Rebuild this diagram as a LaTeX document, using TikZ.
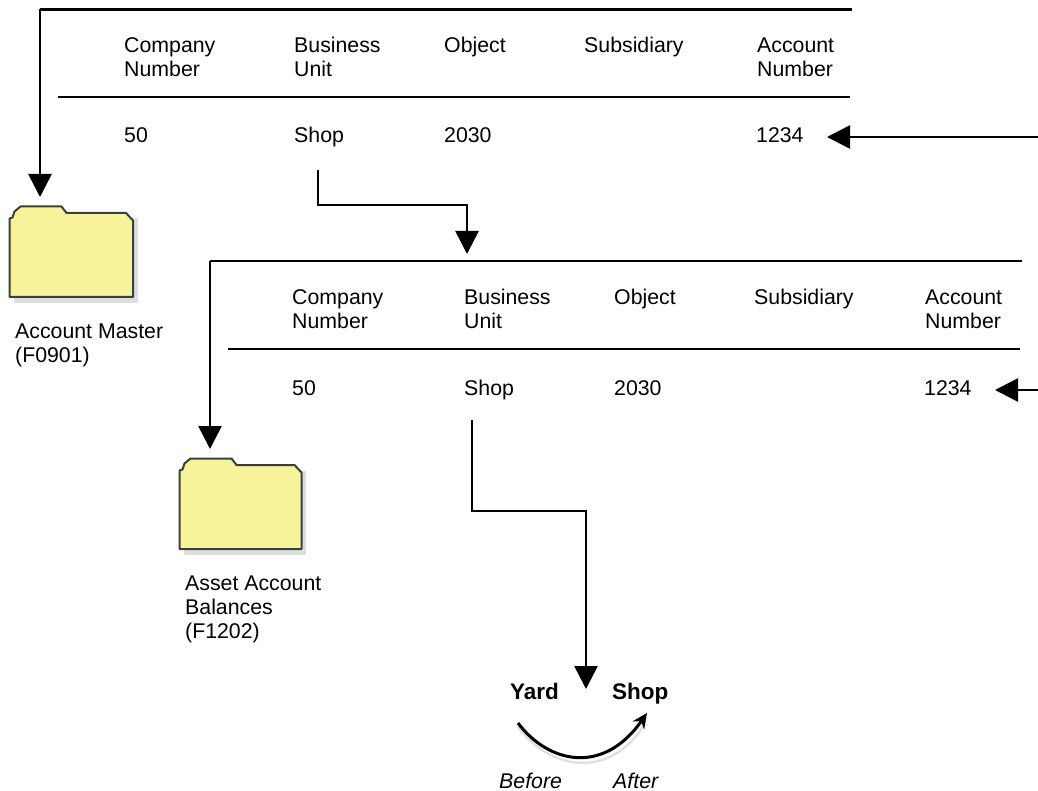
\documentclass[tikz,border=0pt]{standalone}
\usepackage{fontspec}
\setmainfont{Liberation Sans}
\usetikzlibrary{arrows.meta}
\definecolor{folderyellow}{RGB}{247,243,155}
\definecolor{foldershadow}{RGB}{222,222,222}
\definecolor{folderedge}{RGB}{55,65,65}
\tikzset{
 lbl/.style={anchor=base west,inner sep=0pt,font=\fontsize{21.3}{24}\selectfont,text=black},
 boldlbl/.style={lbl,font=\fontsize{22.5}{24}\selectfont\bfseries},
 itlbl/.style={lbl,font=\fontsize{21.3}{24}\selectfont\itshape},
 ln/.style={line width=2.7pt,black},
 arr/.style={line width=2.7pt,black,-{Triangle[length=23pt,width=23pt]}},
 folder/.style={draw=folderedge,line width=2pt,fill=folderyellow,line join=round},
}
\newcommand{\folderat}[4]{%
 \fill[foldershadow] (#1+4,#2+12) rectangle (#1+#3+4.5,#2+96.5);
 \draw[folder] (#1,#2+90.5) -- (#1,#2+12) -- (#1+3,#2+11) -- (#1+5,#2+5) -- (#1+11,#2) -- (#1+52,#2) -- (#1+57,#2+6.5) -- (#1+#3-7,#2+6.5) -- (#1+#3,#2+14) -- (#1+#3,#2+90.5) -- cycle;
 \coordinate (#4) at (#1+62,#2);
}
\begin{document}
\begin{tikzpicture}[x=1pt,y=-1pt]
\useasboundingbox (0,0) rectangle (1038,791);
% top table
\coordinate (t1a) at (40,197);
\coordinate (t1s) at (852,9.5);
\coordinate (t1c) at (40,9.5);
\draw[ln] (t1s) -- (t1c);
\coordinate (r1a) at (58,97); \coordinate (r1b) at (850,97);
\draw[ln] (r1a) -- (r1b);
\node[lbl] (a1) at (124,53) {Company};
\node[lbl] (a2) at (124,77) {Number};
\node[lbl] (b1) at (294,53) {Business};
\node[lbl] (b2) at (294,77) {Unit};
\node[lbl] (c1) at (444,53) {Object};
\node[lbl] (d1) at (584,53) {Subsidiary};
\node[lbl] (e1) at (757,53) {Account};
\node[lbl] (e2) at (757,77) {Number};
\node[lbl] (v1) at (124,143) {50};
\node[lbl] (v2) at (294,143) {Shop};
\node[lbl] (v3) at (444,143) {2030};
\node[lbl] (v4) at (756,143) {1234};
\draw[arr] (t1c) -- (t1a);
\coordinate (i1) at (1038,137); \coordinate (i1e) at (827,137);
\draw[arr] (i1) -- (i1e);
\coordinate (s1) at (318,170); \coordinate (s1m) at (318,205); \coordinate (s1n) at (467,205); \coordinate (s1e) at (467,254);
\draw[arr] (s1) -- (s1m) -- (s1n) -- (s1e);
% second table
\coordinate (t2s) at (1022,261); \coordinate (t2c) at (210,261); \coordinate (t2a) at (210,449);
\draw[ln] (t2s) -- (t2c);
\draw[arr] (t2c) -- (t2a);
\coordinate (r2a) at (228,349); \coordinate (r2b) at (1020,349);
\draw[ln] (r2a) -- (r2b);
\node[lbl] (a1b) at (292,305) {Company};
\node[lbl] (a2b) at (292,329) {Number};
\node[lbl] (b1b) at (464,305) {Business};
\node[lbl] (b2b) at (464,329) {Unit};
\node[lbl] (c1b) at (614,305) {Object};
\node[lbl] (d1b) at (754,305) {Subsidiary};
\node[lbl] (e1b) at (925,305) {Account};
\node[lbl] (e2b) at (925,329) {Number};
\node[lbl] (v1b) at (292,395) {50};
\node[lbl] (v2b) at (464,395) {Shop};
\node[lbl] (v3b) at (614,395) {2030};
\node[lbl] (v4b) at (924,395) {1234};
\coordinate (i2) at (1038,390); \coordinate (i2e) at (995,390);
\draw[arr] (i2) -- (i2e);
\coordinate (s2) at (472,420); \coordinate (s2m) at (472,511); \coordinate (s2n) at (586,511); \coordinate (s2e) at (586,689);
\draw[arr] (s2) -- (s2m) -- (s2n) -- (s2e);
% folders
\folderat{9.5}{206.5}{123.5}{f1}
\folderat{179.5}{458.5}{122}{f2}
\node[lbl] (fa) at (15,338) {Account Master};
\node[lbl] (fb) at (15,362) {(F0901)};
\node[lbl] (ga) at (185,590) {Asset Account};
\node[lbl] (gb) at (185,614) {Balances};
\node[lbl] (gc) at (185,638) {(F1202)};
% yard shop
\node[boldlbl] (y) at (510,699) {Yard};
\node[boldlbl] (s) at (612,699) {Shop};
\node[itlbl] (bf) at (499,788) {Before};
\node[itlbl] (af) at (613,788) {After};
\coordinate (ca) at (518,723); \coordinate (cb) at (647,713);
\coordinate (cas) at (518,727); \coordinate (cbs) at (644,725);
\draw[line width=2.2pt,foldershadow] (cas) .. controls (548,768) and (608,782) .. (cbs);
\draw[line width=3pt,-{Stealth[length=15pt,width=14pt]}] (ca) .. controls (548,763) and (603,776) .. (cb);
\end{tikzpicture}
\end{document}
